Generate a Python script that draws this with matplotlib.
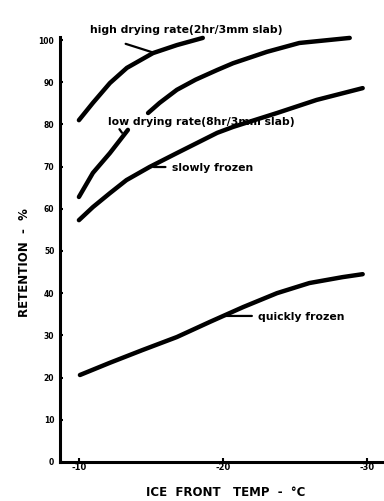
import numpy as np
import matplotlib
matplotlib.use("Agg")
import matplotlib.pyplot as plt

plt.rcParams["axes.unicode_minus"] = False
plt.rcParams["font.family"] = "DejaVu Sans"

# (ice front temp in degC, retention in %)
temp_high = [-10, -10.97, -12.15, -13.33, -15.14, -16.8, -18.6]
ret_high = [81.0, 85.1, 89.8, 93.4, 96.9, 98.8, 100.5]

# gap (nan) where the label sits across the curve
temp_low = [-10, -10.97, -12.15, -13.4, np.nan, -14.8, -15.6, -16.8, -18.1,
            -19.6, -20.7, -23.05, -25.3, -28.8]
ret_low = [62.8, 68.5, 73.2, 78.7, np.nan, 82.7, 85.1, 88.2, 90.6,
           92.9, 94.5, 97.2, 99.3, 100.5]

temp_slow = [-10, -10.97, -12.15, -13.3, -14.9, -16.8, -19.6, -20.7, -23.75,
             -26.5, -29.7]
ret_slow = [57.3, 60.4, 63.7, 66.8, 69.9, 73.2, 78.0, 79.4, 82.7, 85.8, 88.6]

temp_quick = [-10.07, -12.15, -14.4, -16.8, -19.1, -21.4, -23.75, -26.0,
              -28.3, -29.7]
ret_quick = [20.6, 23.5, 26.5, 29.6, 33.2, 36.7, 40.0, 42.4, 43.8, 44.5]

y_ticks = [0, 10, 20, 30, 40, 50, 60, 70, 80, 90, 100]
x_ticks = [-10, -20, -30]

fig = plt.figure(figsize=(3.84, 5.01), dpi=100)
ax = fig.add_axes([0.156, 0.078, 0.844, 0.848])

line_kw = dict(color="black", lw=3.2, solid_capstyle="round",
               solid_joinstyle="round", clip_on=False)
ax.plot(temp_high, ret_high, **line_kw)
ax.plot(temp_low, ret_low, **line_kw)
ax.plot(temp_slow, ret_slow, **line_kw)
ax.plot(temp_quick, ret_quick, **line_kw)

ax.set_xlim(-8.68, -31.18)
ax.set_ylim(0, 100.7)
ax.set_yticks(y_ticks)
ax.set_xticks(x_ticks)
ax.tick_params(axis="y", direction="in", length=2, width=1.5, pad=4,
               labelsize=5.5)
ax.tick_params(axis="x", direction="in", length=3, width=1.5, pad=1,
               labelsize=6)
for lbl in ax.get_xticklabels() + ax.get_yticklabels():
    lbl.set_fontweight("bold")

for s in ("top", "right"):
    ax.spines[s].set_visible(False)
for s in ("left", "bottom"):
    ax.spines[s].set_linewidth(2.2)

# curve labels with short leader lines
txt = dict(fontsize=7.8, fontweight="bold", va="center", ha="left")
lead = dict(arrowstyle="-", lw=1.6, color="black")
ax.text(-10.76, 102.4, "high drying rate(2hr/3mm slab)", clip_on=False, **txt)
ax.annotate("", xy=(-15.28, 96.9), xytext=(-13.06, 99.3), arrowprops=lead,
            annotation_clip=False)
ax.text(-12.01, 80.6, "low drying rate(8hr/3mm slab)", **txt)
ax.annotate("", xy=(-13.1, 77.5), xytext=(-12.7, 79.4), arrowprops=lead)
ax.text(-16.46, 69.7, "slowly frozen", **txt)
ax.annotate("", xy=(-15.0, 69.9), xytext=(-16.2, 69.9), arrowprops=lead)
ax.text(-22.43, 34.4, "quickly frozen", **txt)
ax.annotate("", xy=(-19.93, 34.6), xytext=(-22.2, 34.6), arrowprops=lead)

fig.text(25 / 384, 1 - 263 / 501, "RETENTION  -  %", rotation=90,
         ha="center", va="center", fontsize=8.5, fontweight="bold")
fig.text(226 / 384, 1 - 492 / 501, "ICE  FRONT   TEMP  -  °C", ha="center",
         va="center", fontsize=8.5, fontweight="bold")

fig.savefig("out.png", dpi=100)
